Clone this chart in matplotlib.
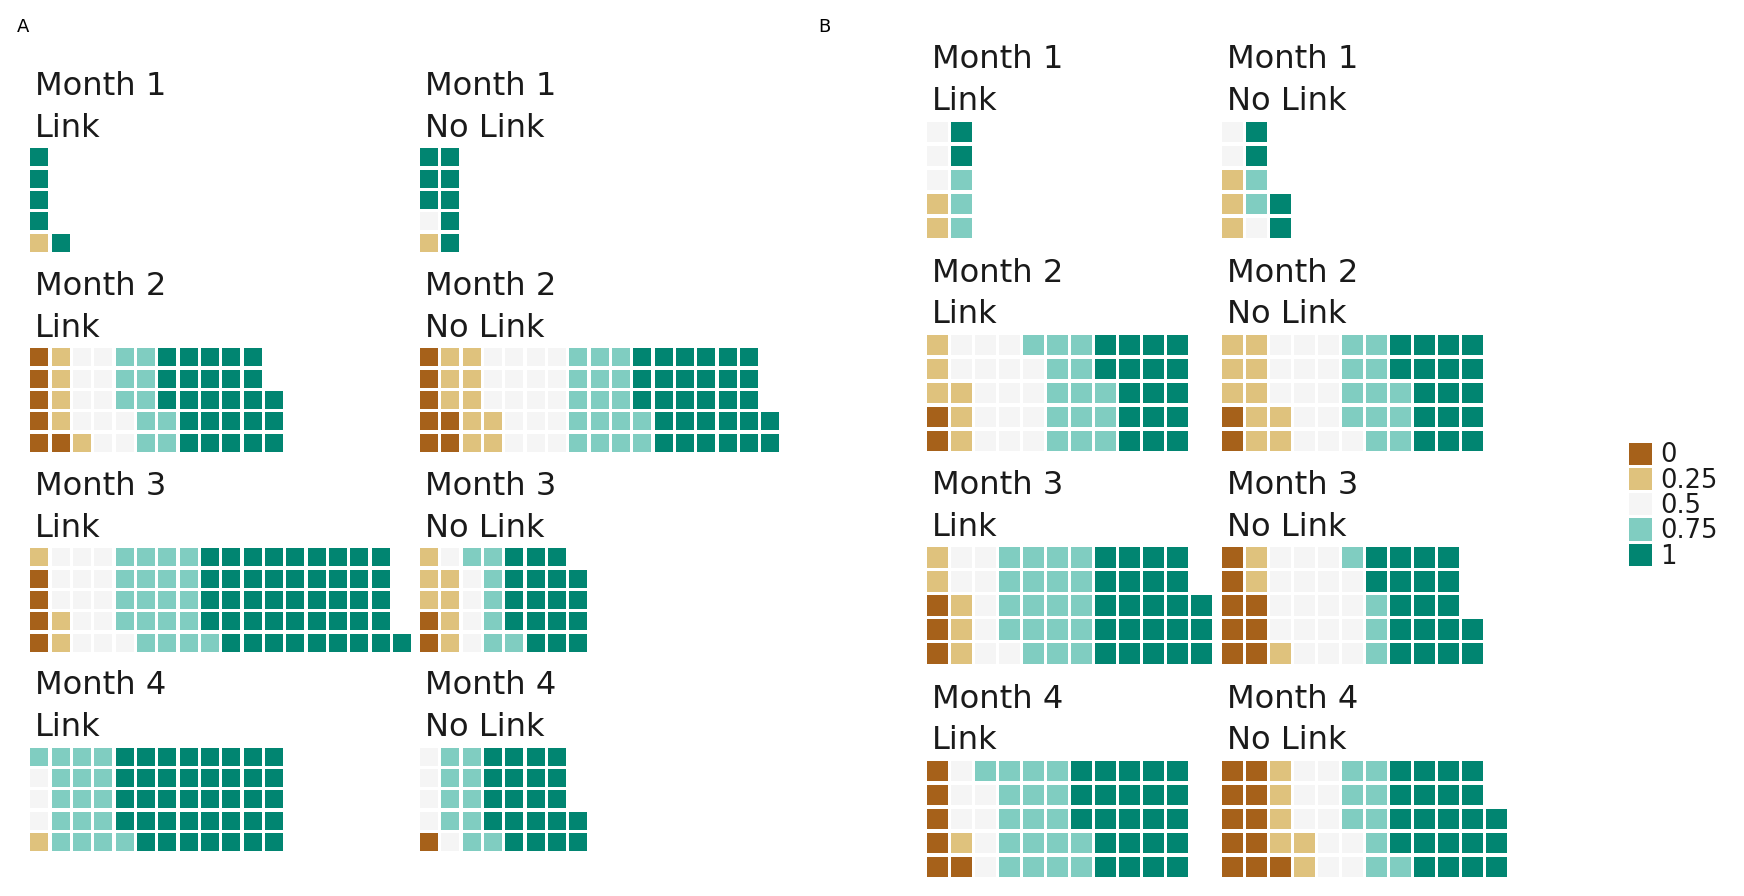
import numpy as np
import matplotlib
matplotlib.use("Agg")
import matplotlib.pyplot as plt
from matplotlib.patches import Rectangle

# categories and counts of respondents per answer value
levels = ["0", "0.25", "0.5", "0.75", "1"]
colors = ["#A6611A", "#DFC27D", "#F5F5F5", "#80CDC1", "#018571"]
months = ["Month 1", "Month 2", "Month 3", "Month 4"]
groups = ["Link", "No Link"]

# panel A
a_link = [[0, 1, 0, 0, 5],
          [6, 5, 11, 10, 26],
          [4, 3, 14, 20, 45],
          [0, 1, 3, 17, 39]]
a_nolink = [[0, 1, 1, 0, 8],
            [7, 10, 18, 17, 30],
            [2, 7, 5, 7, 18],
            [1, 0, 5, 10, 21]]
# panel B
b_link = [[0, 2, 3, 3, 2],
          [2, 6, 16, 14, 17],
          [3, 5, 8, 19, 23],
          [6, 1, 7, 18, 23]]
b_nolink = [[0, 3, 3, 2, 4],
            [2, 10, 14, 12, 17],
            [8, 3, 18, 4, 19],
            [11, 6, 10, 9, 22]]

W, H = 1744, 896
fig = plt.figure(figsize=(W / 100, H / 100), dpi=100)
fig.patch.set_facecolor("white")
TXT = "#1a1a1a"


def ftext(x, y, s, **kw):
    # x, y in pixels from top-left
    fig.text(x / W, 1 - y / H, s, **kw)


def waffle(counts, left, top, pitch, gap, month, group):
    n = sum(counts)
    ncols = int(np.ceil(n / 5))
    g = gap / pitch
    ax = fig.add_axes([(left - gap / 2) / W, 1 - (top - gap / 2 + 5 * pitch) / H,
                       ncols * pitch / W, 5 * pitch / H])
    ax.set_xlim(0, ncols)
    ax.set_ylim(0, 5)
    ax.axis("off")
    ax.patch.set_visible(False)
    cats = np.repeat(np.arange(len(levels)), counts)
    for i, k in enumerate(cats):
        col, row = divmod(i, 5)
        ax.add_patch(Rectangle((col + g / 2, row + g / 2), 1 - g, 1 - g,
                               facecolor=colors[k], edgecolor="none"))
    # facet strip text
    ftext(left + 4.5, top - 53.5, month, fontsize=23.1, color=TXT, va="baseline")
    ftext(left + 4.5, top - 11.6, group, fontsize=23.1, color=TXT, va="baseline")


# panel A layout
a_tops = [148.3, 348.3, 548.3, 747.7]
for i, m in enumerate(months):
    waffle(a_link[i], 30.3, a_tops[i], 21.33, 3.3, m, groups[0])
    waffle(a_nolink[i], 420.0, a_tops[i], 21.33, 3.3, m, groups[1])

# panel B layout
b_tops = [121.7, 335.0, 547.3, 761.0]
for i, m in enumerate(months):
    waffle(b_link[i], 927.3, b_tops[i], 24.0, 3.7, m, groups[0])
    waffle(b_nolink[i], 1222.3, b_tops[i], 24.0, 3.7, m, groups[1])

ftext(17, 31.5, "A", fontsize=13, color="black", va="baseline")
ftext(818, 31.5, "B", fontsize=13, color="black", va="baseline")

# legend
lax = fig.add_axes([1629.3 / W, 1 - 567.5 / H, 110 / W, 126.5 / H])
lax.set_xlim(0, 110)
lax.set_ylim(len(levels), 0)
lax.axis("off")
for k, lab in enumerate(levels):
    lax.add_patch(Rectangle((0, k + 0.06), 22.3, 0.88, facecolor=colors[k],
                            edgecolor="none"))
    lax.text(31, k + 0.45, lab, fontsize=18.5, color=TXT, va="center_baseline")

fig.savefig("out.png", dpi=100, facecolor="white")
